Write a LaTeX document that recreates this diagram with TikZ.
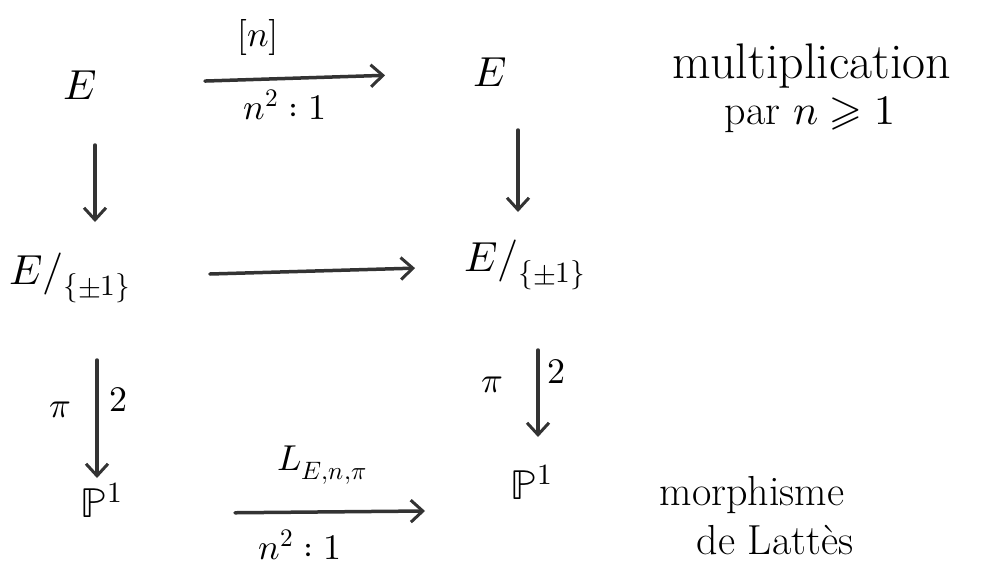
\documentclass[tikz,border=0pt]{standalone}
\usepackage{unicode-math}
\setmathfont{Latin Modern Math}
\usetikzlibrary{arrows.meta}
\begin{document}
\begin{tikzpicture}[x=1pt,y=-1pt,
  big/.style={font=\fontsize{42}{46}\selectfont, inner sep=0pt},
  lab/.style={font=\fontsize{36}{40}\selectfont, inner sep=0pt},
  note/.style={font=\fontsize{42}{46}\selectfont, inner sep=0pt},
  arr/.style={draw=black!80, line width=3.5pt, line cap=round,
    -{Straight Barb[length=12pt,width=22pt,line width=3pt]}}]
\useasboundingbox (0,0) rectangle (982,570);
% objects
\node[big] (E1) at (80,85) {$E$};
\node[big] (E2) at (490,72) {$E$};
\node[big] (Q1) at (70,278) {$E/_{\{\pm1\}}$};
\node[big] (Q2) at (525,265) {$E/_{\{\pm1\}}$};
\node[big] (P1) at (102,500) {$\mathbb{P}^1$};
\node[big] (P2) at (532,482) {$\mathbb{P}^1$};
% arrows
\draw[arr, shorten <=125pt, shorten >=105pt] (E1.center) -- (E2.center);
\draw[arr, shorten <=140pt, shorten >=110pt] (Q1.center) -- (Q2.center);
\draw[arr, shorten <=133pt, shorten >=107pt] ([yshift=-14pt]P1.center) -- ([yshift=-28pt]P2.center);
\draw[arr, shorten <=60pt, shorten >=56pt] ([xshift=15pt]E1.center) -- ([xshift=25pt]Q1.center);
\draw[arr, shorten <=58pt, shorten >=53pt] ([xshift=28pt]E2.center) -- ([xshift=-7pt]Q2.center);
\draw[arr, shorten <=82pt, shorten >=22pt] ([xshift=27pt]Q1.center) -- ([xshift=-5pt]P1.center);
\draw[arr, shorten <=85pt, shorten >=45pt] ([xshift=13pt]Q2.center) -- ([xshift=6pt]P2.center);
% arrow labels
\node[lab] (l1) at (258,37) {$[n]$};
\node[lab] (l2) at (285,105) {$n^2:1$};
\node[lab] (l3) at (60,410) {$\pi$};
\node[lab] (l4) at (118,400) {$2$};
\node[lab] (l5) at (492,385) {$\pi$};
\node[lab] (l6) at (556,372) {$2$};
\node[lab] (l7) at (322,465) {$L_{E,n,\pi}$};
\node[lab] (l8) at (300,545) {$n^2:1$};
% notes
\node[note, font=\fontsize{50}{54}\selectfont] (m1) at (812,66) {multiplication};
\node[note] (m2) at (810,115) {par $n\geqslant1$};
\node[note] (m3) at (752,495) {morphisme};
\node[note] (m4) at (775,540) {de Lattès};
\end{tikzpicture}
\end{document}
